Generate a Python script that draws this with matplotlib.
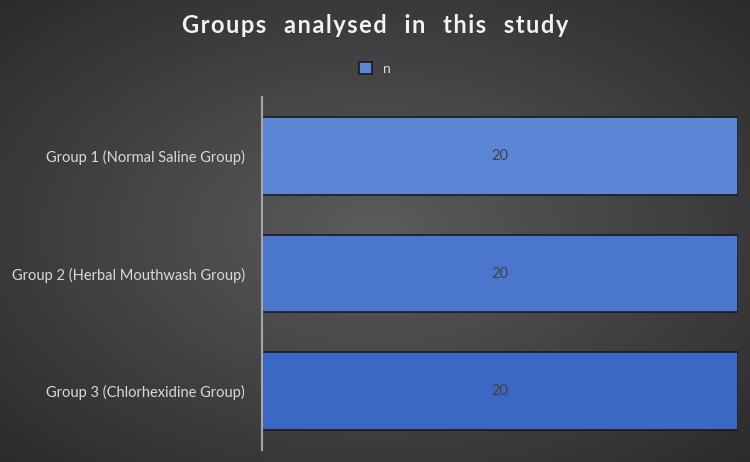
import numpy as np
import matplotlib.pyplot as plt

plt.rcParams['font.family'] = ['Lato', 'DejaVu Sans']

# data
groups = ['Group 1 (Normal Saline Group)', 'Group 2 (Herbal Mouthwash Group)', 'Group 3 (Chlorhexidine Group)']
n_values = [20, 20, 20]
bar_colors = ['#5b86d6', '#4a77cc', '#3a68c2']

fig = plt.figure(figsize=(7.5, 4.62), dpi=100)

# radial gradient background
bg = fig.add_axes([0, 0, 1, 1])
yy, xx = np.mgrid[0:462, 0:750]
r = np.sqrt(((xx - 375) / 750.0) ** 2 + ((yy - 231) / 462.0) ** 2)
r = np.clip(r / 0.7, 0, 1)
c0 = np.array([0.36, 0.36, 0.36])
c1 = np.array([0.17, 0.17, 0.17])
img = c0[None, None, :] * (1 - r[..., None]) + c1[None, None, :] * r[..., None]
bg.imshow(img, aspect='auto', extent=[0, 1, 0, 1])
bg.axis('off')

ax = fig.add_axes([0.349, 0.026, 0.635, 0.764])
ax.patch.set_alpha(0)
ypos = np.arange(len(groups))
bars = ax.barh(ypos, n_values, height=0.66, color=bar_colors, edgecolor='#1a1a1a', linewidth=1.2, label='n')
for b, v in zip(bars, n_values):
    ax.text(v / 2, b.get_y() + b.get_height() / 2, str(v), ha='center', va='center',
            color='#404040', fontsize=10.5)
ax.set_xlim(0, 20)
ax.set_ylim(2.5, -0.5)
ax.set_yticks(ypos)
ax.set_yticklabels(groups, color='#d9d9d9', fontsize=10.5)
ax.tick_params(axis='y', length=0, pad=12)
ax.set_xticks([])
for s in ['top', 'right', 'bottom']:
    ax.spines[s].set_visible(False)
ax.spines['left'].set_color('#a6a6a6')
ax.spines['left'].set_linewidth(1.5)

fig.text(0.5, 0.945, 'G r o u p s   a n a l y s e d   i n   t h i s   s t u d y'.replace('   ', '\u2003').replace(' ', '\u200a'),
         ha='center', va='center', color='#f2f2f2', fontsize=17, fontweight='bold')
fig.legend(handles=[bars], labels=['n'], loc='center', bbox_to_anchor=(0.5, 0.852),
           frameon=False, labelcolor='#d9d9d9', fontsize=10, handlelength=0.9, handleheight=0.9)

fig.savefig('out.png', dpi=100)
